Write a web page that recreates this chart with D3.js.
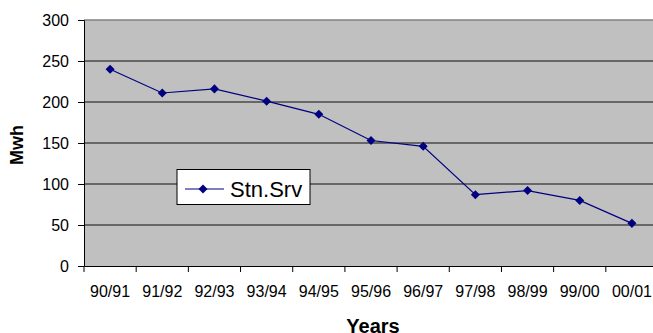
<!DOCTYPE html>
<html>
<head>
<meta charset="utf-8">
<script src="https://cdn.jsdelivr.net/npm/d3@7"></script>
<style>
  html, body { margin: 0; padding: 0; background: #fff; }
  svg { display: block; }
</style>
</head>
<body>
<svg id="chart" width="653" height="333"></svg>
<script>
// Station service energy use per financial year
const years = ["90/91", "91/92", "92/93", "93/94", "94/95", "95/96", "96/97", "97/98", "98/99", "99/00", "00/01"];
const stnSrv = [240, 211, 216, 201, 185, 153, 146, 87, 92, 80, 52];
const yTicks = [0, 50, 100, 150, 200, 250, 300];
const seriesName = "Stn.Srv";

(function draw() {
  const svg = d3.select("#chart");
  const font = "'Liberation Sans', Arial, sans-serif";

  const plotL = 84, plotR = 658, plotT = 20, plotB = 266;

  const x = d3.scaleBand().domain(years).range([plotL, plotR]).padding(0);
  const y = d3.scaleLinear().domain([0, 300]).range([plotB, plotT]);

  // plot background
  svg.append("rect")
    .attr("x", plotL).attr("y", plotT)
    .attr("width", plotR - plotL).attr("height", plotB - plotT)
    .attr("fill", "#c0c0c0");

  // horizontal gridlines
  svg.append("g").selectAll("line")
    .data(yTicks.filter(d => d > 0))
    .join("line")
    .attr("x1", plotL).attr("x2", plotR)
    .attr("y1", d => y(d)).attr("y2", d => y(d))
    .attr("stroke", d => d === 300 ? "#808080" : "#4a4a4a")
    .attr("stroke-width", 1.5);

  // y axis
  const yAxis = svg.append("g")
    .attr("transform", `translate(${plotL},0)`)
    .call(d3.axisLeft(y).tickValues(yTicks).tickSize(6).tickPadding(9));
  yAxis.select(".domain").attr("stroke", "#000");
  yAxis.selectAll(".tick line").attr("stroke", "#000");
  yAxis.selectAll("text").attr("font-family", font).attr("font-size", 16).attr("fill", "#000");

  // x axis: ticks at category boundaries
  const xAxis = svg.append("g")
    .attr("transform", `translate(0,${plotB})`)
    .call(d3.axisBottom(x).tickSize(0).tickPadding(20));
  xAxis.select(".domain").attr("stroke", "#000");
  xAxis.selectAll("text").attr("font-family", font).attr("font-size", 16).attr("fill", "#000");
  svg.append("g").selectAll("line")
    .data(years)
    .join("line")
    .attr("x1", d => x(d)).attr("x2", d => x(d))
    .attr("y1", plotB).attr("y2", plotB + 6)
    .attr("stroke", "#000");

  // axis titles
  svg.append("text")
    .attr("transform", "translate(23,145) rotate(-90)")
    .attr("text-anchor", "middle")
    .attr("font-family", font).attr("font-size", 18).attr("font-weight", "bold")
    .text("Mwh");
  svg.append("text")
    .attr("x", 373).attr("y", 333)
    .attr("text-anchor", "middle")
    .attr("font-family", font).attr("font-size", 20).attr("font-weight", "bold")
    .text("Years");

  // series line
  const cx = d => x(d) + x.bandwidth() / 2;
  const line = d3.line().x((d, i) => cx(years[i])).y(d => y(d));
  svg.append("path")
    .datum(stnSrv)
    .attr("d", line)
    .attr("fill", "none")
    .attr("stroke", "#000080")
    .attr("stroke-width", 1.2);

  const diamond = d3.symbol().type(d3.symbolDiamond2).size(52);
  svg.append("g").selectAll("path")
    .data(stnSrv)
    .join("path")
    .attr("transform", (d, i) => `translate(${cx(years[i])},${y(d)})`)
    .attr("d", diamond)
    .attr("fill", "#000080");

  // legend
  const lg = svg.append("g");
  lg.append("rect")
    .attr("x", 177).attr("y", 169.5)
    .attr("width", 133).attr("height", 35)
    .attr("fill", "#fff").attr("stroke", "#000");
  lg.append("line")
    .attr("x1", 185).attr("x2", 224).attr("y1", 189).attr("y2", 189)
    .attr("stroke", "#000080").attr("stroke-width", 1.2);
  lg.append("path")
    .attr("transform", "translate(203,189)")
    .attr("d", diamond)
    .attr("fill", "#000080");
  lg.append("text")
    .attr("x", 230).attr("y", 197)
    .attr("font-family", font).attr("font-size", 22)
    .text(seriesName);
})();
</script>
</body>
</html>
